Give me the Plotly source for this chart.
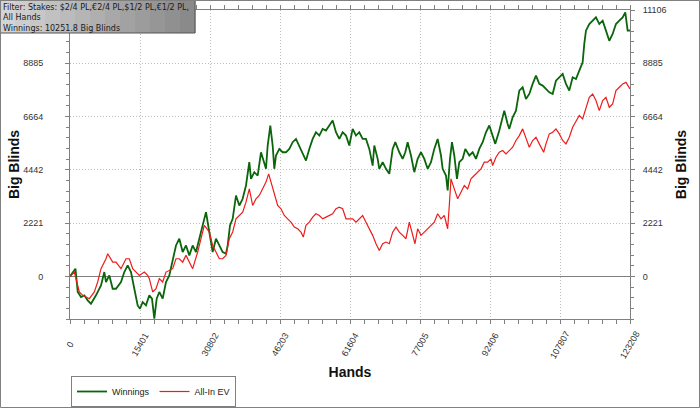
import plotly.graph_objects as go

# cumulative results (hands, big blinds)
hands_win = [0, 1200, 1700, 2420, 3150, 3890, 4620, 5720, 6820, 7550,
             7920, 8650, 9390, 10120, 11220, 11950, 12690, 13420, 14150, 14890,
             15400, 15990, 16720, 17450, 18040, 18550, 19070, 19650, 20390, 21120,
             21850, 22590, 23320, 24050, 24790, 25520, 26250, 26990, 27720, 28450,
             29190, 29920,
             30650, 31390, 32120, 32850, 33590, 34320, 34690, 35200, 35790, 36520,
             37250, 37990, 38720, 39450, 39820, 40550, 41290, 42020, 42750, 43120,
             43490, 44070, 44590, 44950, 45320, 46050, 46790, 47520, 48250, 48990,
             49720, 50450, 51190, 51920, 52650, 53390, 54120, 54850, 55590, 56320,
             57050, 57790, 58520, 59250, 59990, 60720, 61450,
             62190, 62920, 63650, 64390, 65120, 65850, 66590, 66950, 67690, 68050,
             68790, 69520, 70250, 70990, 71570, 72450, 73190, 73770, 74290, 75020,
             75750, 76490, 77220, 77950, 78690, 79420, 80150, 80890, 81620, 81990,
             82720, 83090, 83600, 84040, 84550, 85140, 85650, 86390, 86970, 87850,
             88590, 89320, 90050, 90790, 91520, 92250,
             92990, 93570, 94450, 95190, 95550, 96290, 96650, 97390, 98120, 98850,
             99590, 100320, 101050, 101790, 102520, 103250, 103990, 104720, 105450, 106190,
             106920, 107650, 108390, 109120, 109850, 110590, 111320, 112050, 112790, 113150,
             113520, 114250, 114990, 115720, 116450, 117190, 117920, 118650, 119390, 120120,
             120850, 121590, 122170, 122690, 123208]
bb_win = [0, 320, -650, -860, -790, -1000, -1140, -790, -375, 180,
          -235, 40, -515, -515, -235, 180, 460, 180, -515, -1210,
          -1350, -1070, -1210, -790, -930, -1760, -930, -650, -930, -235,
          40, 735, 1290, 1570, 1015, 1290, 875, 1290, 1015, 1570,
          2125, 2680,
          1850, 1015, 1570, 1290, 1015, 945, 1290, 2125, 2400, 3370,
          2955, 3235, 3790, 4760, 4065, 4345, 4205, 5175, 4760, 4485,
          5455, 6290, 5455, 4485, 5040, 5315, 5175, 5175, 5315, 5595,
          5730, 5455, 5175, 4830, 5315, 5730, 6010, 5870, 6150, 6080,
          6290, 6495, 6010, 5730, 6010, 5870, 5455,
          6150, 5870, 6010, 5730, 5730, 5315, 4620, 5455, 4900, 4485,
          4760, 4485, 4275, 5315, 5595, 5175, 4900, 5175, 5595, 5040,
          4345, 4900, 5175, 4900, 4485, 4760, 5315, 5730, 5040, 4485,
          4205, 3580, 4900, 5595, 5040, 4065, 4760, 4900, 5315, 5040,
          5175, 4900, 5315, 5595, 6010, 6290,
          5800, 5525, 6080, 6635, 6910, 6355, 6150, 6635, 6910, 7745,
          7885, 7400, 7605, 8025, 8370, 8025, 7955, 7815, 7675, 7605,
          8160, 8300, 8440, 8025, 7745, 8300, 8230, 8580, 8925, 9690,
          10245, 10520, 10660, 10800, 10520, 10660, 10245, 9825, 10105, 10520,
          10660, 10800, 11005, 10245, 10252]

hands_ev = [0, 950, 2050, 2790, 3520, 4250, 5350, 6090, 6820, 7920,
            8290, 9390, 10120, 11220, 12320, 13050, 13790, 14520, 15250, 16350,
            17090, 17450, 18190, 18920, 19650, 20390, 21120, 22590, 23320, 24050,
            24790, 25520, 26250, 26990, 28090, 28820, 29550, 30650,
            31390, 32120, 32850, 33590, 34320, 35050, 35790, 36520, 37250, 37990,
            38720, 39450, 40190, 40920, 41650, 42390, 43120, 43710, 44220, 44950,
            45690, 46420, 47150, 47890, 48620, 49350, 50090, 50820, 51330, 51920,
            52650, 53390, 54120, 54850, 55590, 56320, 57050, 57790, 58520, 59250,
            59990, 60720, 61450,
            62190, 62920, 63650, 64390, 65120, 65850, 66590, 67320, 68050, 68790,
            69520, 70250, 70990, 71720, 72450, 73190, 73920, 74650, 75390, 75900,
            76490, 77220, 77950, 78690, 79420, 80150, 80890, 81620, 82350, 83090,
            83450, 83820, 84550, 85290, 86020, 86750, 87490, 88220, 88950, 89690,
            90420, 91150, 91890, 92620,
            92990, 93720, 94450, 95190, 95920, 96650, 97390, 98120, 98850, 99590,
            100320, 101050, 101790, 102520, 103250, 104210, 104720, 105450, 106190, 106920,
            107650, 108390, 109120, 109850, 110590, 111320, 112050, 112790, 113520, 114250,
            114990, 115720, 116450, 117190, 117920, 118650, 119390, 120120, 120850, 121590,
            122320, 123208]
bb_ev = [0, 180, -650, -790, -860, -930, -650, -235, 320, 735,
         945, 595, 595, 320, 735, 735, 320, 180, 40, 180,
         40, -95, -650, -515, -95, -235, 180, 320, 735, 735,
         595, 875, 595, 320, 1015, 1570, 2125, 1850,
         1290, 1015, 735, 735, 875, 1570, 1850, 2400, 2540, 2680,
         3095, 3650, 2955, 3235, 3375, 3650, 3930, 4275, 3930, 3375,
         2955, 2820, 2540, 2400, 2260, 2055, 1985, 1845, 1640, 2125,
         2260, 2470, 2610, 2540, 2400, 2470, 2540, 2610, 2820, 2885,
         2820, 2400, 2400,
         2400, 2260, 2400, 2540, 2260, 1985, 1710, 1360, 1080, 1360,
         1430, 1360, 1845, 2055, 1845, 1710, 1570, 2260, 1710, 1360,
         1985, 1710, 1845, 1985, 2125, 2260, 2610, 2400, 2540, 1985,
         2955, 4065, 3650, 3235, 3510, 3790, 3650, 4065, 4205, 4345,
         4485, 4760, 4760, 4900,
         4620, 4970, 5175, 5245, 5110, 5245, 5385, 5665, 5870, 6150,
         5800, 5385, 5665, 5800, 5525, 5175, 5525, 5940, 6010, 6150,
         5940, 5665, 5525, 5800, 6220, 6495, 6705, 6565, 7050, 7465,
         7605, 7330, 6910, 7330, 7465, 7050, 7190, 7745, 7885, 8025,
         8090, 7815]

x_ticks = [0, 15401, 30802, 46203, 61604, 77005, 92406, 107807, 123208]
y_ticks = [0, 2221, 4442, 6664, 8885, 11106]
info_lines = ["Filter: Stakes: $2/4 PL,€2/4 PL,$1/2 PL,€1/2 PL,",
              "All Hands",
              "Winnings: 10251.8 Big Blinds"]

# plot area in pixels: x 70..630, y 10..319
def px(x):
    return (x - 70) / 560

def py(y):
    return (319 - y) / 309

x_minor = [i * 15401 / 5 for i in range(41)]
y_minor = [i * 11106 / 25 for i in range(-4, 26)]
y_range = [-4 * 11106 / 25, 11106]

GRAY = "#808080"
tick_font = dict(family="Arial, Liberation Sans", size=9, color="#333333")
title_font = dict(family="Arial, Liberation Sans", size=14, color="#111111", weight="bold")

fig = go.Figure()
fig.add_trace(go.Scatter(x=hands_win, y=bb_win, mode="lines", name="Winnings",
                         line=dict(color="#0b650b", width=1.8)))
fig.add_trace(go.Scatter(x=hands_ev, y=bb_ev, mode="lines", name="All-In EV", yaxis="y2",
                         line=dict(color="#ee1c1c", width=1.2)))

minor_x = dict(tickvals=x_minor, ticks="outside", ticklen=3, tickcolor=GRAY, showgrid=False)
minor_y = dict(tickvals=y_minor, ticks="outside", ticklen=3, tickcolor=GRAY, showgrid=False)
DOTS = "1px,2px"

# the top-left label is hidden under the info box in the reference
left_text = [str(v) if v != 11106 else "" for v in y_ticks]

fig.update_layout(
    width=700, height=409,
    margin=dict(l=70, r=70, t=10, b=90, autoexpand=False),
    paper_bgcolor="white", plot_bgcolor="white",
    showlegend=True,
    xaxis=dict(range=[0, 123208], tickvals=x_ticks, showticklabels=False, automargin=False,
               ticks="outside", ticklen=4, tickcolor=GRAY,
               showline=True, linecolor=GRAY, mirror="allticks",
               showgrid=True, gridcolor="#bdbdbd", griddash=DOTS, zeroline=False,
               minor=minor_x,
               title=dict(text="Hands", font=title_font, standoff=44)),
    yaxis=dict(range=y_range, tickvals=y_ticks, ticktext=left_text,
               automargin=False,
               ticks="outside", ticklen=4, tickcolor=GRAY, tickfont=tick_font,
               ticklabelstandoff=20,
               showline=True, linecolor=GRAY,
               showgrid=True, gridcolor="#bdbdbd", griddash=DOTS,
               zeroline=True, zerolinecolor=GRAY, zerolinewidth=1,
               minor=minor_y,
               title=dict(text="Big Blinds", font=title_font, standoff=0)),
    yaxis2=dict(range=y_range, overlaying="y", side="right", anchor="x", automargin=False,
                tickvals=y_ticks, ticktext=[str(v) for v in y_ticks],
                ticks="outside", ticklen=4, tickcolor=GRAY, tickfont=tick_font,
                ticklabelstandoff=6,
                showline=True, linecolor=GRAY, showgrid=False, zeroline=False,
                minor=minor_y,
                title=dict(text="Big Blinds", font=title_font, standoff=10)),
    legend=dict(orientation="h", x=px(71), xanchor="left", y=py(376), yanchor="top",
                bordercolor=GRAY, borderwidth=1, bgcolor="white", itemwidth=30,
                font=dict(family="Arial, Liberation Sans", size=9, color="#222222")),
)

# rotated hand-count labels under the x axis
for v in x_ticks:
    fig.add_annotation(x=v, xref="x", y=py(345), yref="paper", text=str(v),
                       textangle=-60, showarrow=False, xanchor="center", yanchor="middle",
                       font=tick_font)

# info box in the top-left corner (grey gradient)
shapes = []
strips = 13
for i in range(strips):
    c = int(212 - (212 - 138) * i / (strips - 1))
    shapes.append(dict(type="rect", xref="paper", yref="paper",
                       x0=px(0 + i * 195 / strips), x1=px(0 + (i + 1) * 195 / strips + 0.5),
                       y0=py(33), y1=py(0), line=dict(width=0),
                       fillcolor=f"rgb({c},{c},{c})", layer="above"))
shapes.append(dict(type="rect", xref="paper", yref="paper", x0=px(0.5), x1=px(195),
                   y0=py(33), y1=py(0.5), line=dict(color="#555555", width=1), layer="above"))
# outer picture frame
shapes.append(dict(type="rect", xref="paper", yref="paper", x0=px(0.5), x1=px(699.5),
                   y0=py(407.5), y1=py(0.5), line=dict(color=GRAY, width=1), layer="above"))
fig.update_layout(shapes=shapes)

fig.add_annotation(x=px(2), xref="paper", y=py(2), yref="paper", text="<br>".join(info_lines),
                   showarrow=False, xanchor="left", yanchor="top", align="left",
                   borderpad=0,
                   font=dict(family="DejaVu Sans", size=8, color="#1a1a1a"))

fig.write_html("out.html", config={"displayModeBar": False},
               post_script="document.body.style.margin='0px';document.body.style.overflow='hidden';")
